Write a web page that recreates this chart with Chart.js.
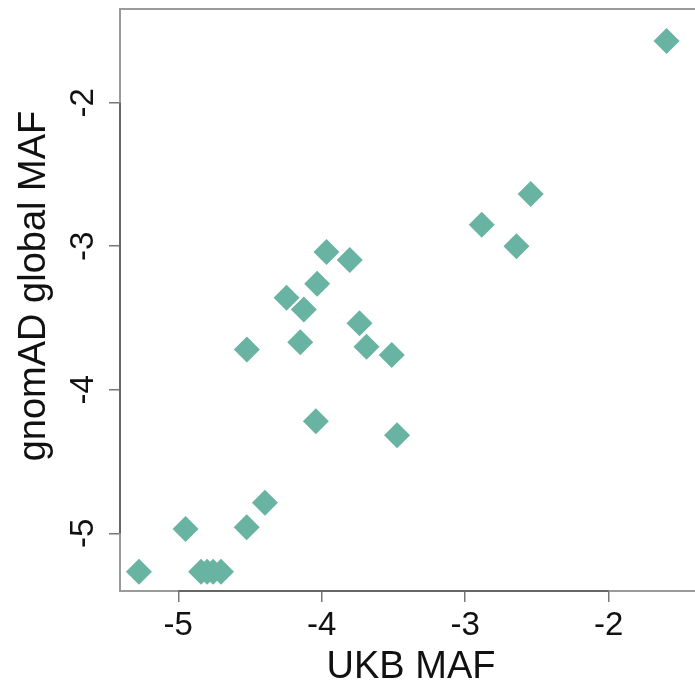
<!DOCTYPE html>
<html>
<head>
<meta charset="utf-8">
<script src="https://cdn.jsdelivr.net/npm/chart.js@4.4.1/dist/chart.umd.min.js"></script>
<style>
  html, body { margin: 0; padding: 0; background: #fff; overflow: hidden; }
  canvas { display: block; }
</style>
</head>
<body>
<canvas id="myChart" width="720" height="686"></canvas>
<script>
// log10 MAF values
var ukbMaf = [-1.597, -2.544, -2.885, -2.643, -3.967, -3.805, -4.032, -4.245, -4.125, -3.737,
              -4.150, -4.522, -3.688, -3.512, -4.041, -3.475, -4.396, -4.523, -4.949, -5.274,
              -4.841, -4.799, -4.757, -4.702];
var gnomadMaf = [-1.570, -2.636, -2.850, -3.000, -3.040, -3.096, -3.261, -3.359, -3.440, -3.537,
                 -3.668, -3.719, -3.700, -3.758, -4.220, -4.316, -4.787, -4.957, -4.970, -5.268,
                 -5.268, -5.268, -5.268, -5.268];
var xTicks = [-5, -4, -3, -2];
var yTicks = [-5, -4, -3, -2];
var xTitle = 'UKB MAF';
var yTitle = 'gnomAD global MAF';

var points = ukbMaf.map(function(x, i) {
    return { x: x, y: gnomadMaf[i] };
});

var FONT = '"Liberation Sans", Arial, Helvetica, sans-serif';

// R style frame, axis lines, tick labels and titles
var baseAxes = {
    id: 'baseAxes',
    afterDraw: function(chart) {
        var ctx = chart.ctx, a = chart.chartArea;
        var xs = chart.scales.x, ys = chart.scales.y;
        ctx.save();
        // box
        ctx.strokeStyle = '#9a9a9a';
        ctx.lineWidth = 2;
        ctx.strokeRect(a.left, a.top, a.right - a.left, a.bottom - a.top);
        // axis lines between first and last tick
        ctx.strokeStyle = '#666';
        ctx.beginPath();
        ctx.moveTo(xs.getPixelForValue(xTicks[0]), a.bottom);
        ctx.lineTo(xs.getPixelForValue(xTicks[xTicks.length - 1]), a.bottom);
        ctx.moveTo(a.left, ys.getPixelForValue(yTicks[0]));
        ctx.lineTo(a.left, ys.getPixelForValue(yTicks[yTicks.length - 1]));
        ctx.stroke();

        ctx.fillStyle = '#111';
        // x tick labels
        ctx.font = '33px ' + FONT;
        ctx.textAlign = 'center';
        ctx.textBaseline = 'alphabetic';
        xTicks.forEach(function(v) {
            ctx.fillText(String(v), xs.getPixelForValue(v), 635);
        });
        // y tick labels, rotated like R's las = 0
        yTicks.forEach(function(v) {
            ctx.save();
            ctx.translate(93, ys.getPixelForValue(v));
            ctx.rotate(-Math.PI / 2);
            ctx.fillText(String(v), 0, 0);
            ctx.restore();
        });
        // titles
        ctx.font = '38px ' + FONT;
        ctx.fillText(xTitle, (a.left + a.right) / 2, 678);
        ctx.save();
        ctx.translate(45, 286);
        ctx.rotate(-Math.PI / 2);
        ctx.fillText(yTitle, 0, 0);
        ctx.restore();
        ctx.restore();
    }
};

var ctx = document.getElementById('myChart').getContext('2d');
var myChart = new Chart(ctx, {
    type: 'scatter',
    data: {
        datasets: [{
            label: 'MAF',
            data: points,
            pointStyle: 'rectRot',
            pointRadius: 13,
            pointHoverRadius: 13,
            borderWidth: 0,
            backgroundColor: '#69b3a2'
        }]
    },
    options: {
        responsive: false,
        animation: false,
        devicePixelRatio: 1,
        layout: { autoPadding: false, padding: { top: 9, right: 18, left: 0, bottom: 0 } },
        plugins: {
            legend: { display: false },
            tooltip: { enabled: false }
        },
        scales: {
            x: {
                type: 'linear',
                min: -5.406,
                max: -1.35,
                afterBuildTicks: function(scale) {
                    scale.ticks = xTicks.map(function(v) { return { value: v }; });
                },
                afterFit: function(scale) { scale.height = 95; },
                ticks: { display: false },
                border: { display: false },
                grid: {
                    drawOnChartArea: false,
                    drawTicks: true,
                    tickLength: 11,
                    color: '#777',
                    lineWidth: 1.5
                }
            },
            y: {
                type: 'linear',
                min: -5.402,
                max: -1.347,
                afterBuildTicks: function(scale) {
                    scale.ticks = yTicks.map(function(v) { return { value: v }; });
                },
                afterFit: function(scale) { scale.width = 120; },
                ticks: { display: false },
                border: { display: false },
                grid: {
                    drawOnChartArea: false,
                    drawTicks: true,
                    tickLength: 11,
                    color: '#777',
                    lineWidth: 1.5
                }
            }
        }
    },
    plugins: [baseAxes]
});
</script>
</body>
</html>
